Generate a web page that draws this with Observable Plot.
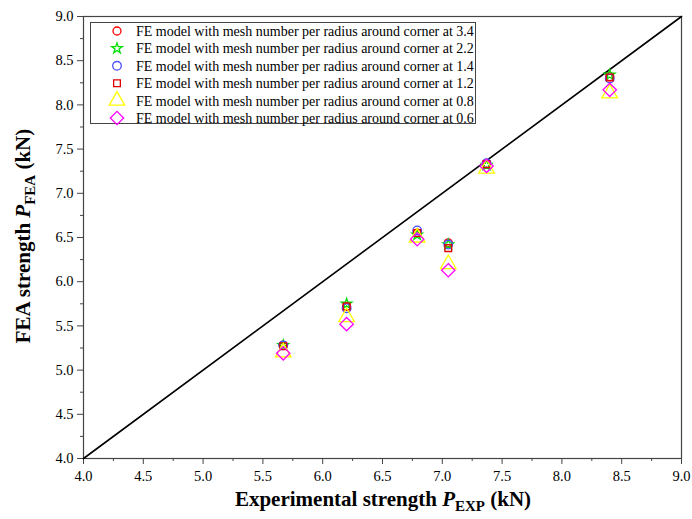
<!DOCTYPE html>
<html>
<head>
<meta charset="utf-8">
<script src="https://cdn.jsdelivr.net/npm/d3@7"></script>
<script src="https://cdn.jsdelivr.net/npm/@observablehq/plot@0.6"></script>
<style>
  body { margin: 0; background: #fff; }
  #chart { width: 692px; height: 519px; }
</style>
</head>
<body>
<div id="chart"></div>
<script>
const xExp = [5.67, 6.2, 6.79, 7.05, 7.37, 8.4];
const seriesLabels = [
  "FE model with mesh number per radius around corner at 3.4",
  "FE model with mesh number per radius around corner at 2.2",
  "FE model with mesh number per radius around corner at 1.4",
  "FE model with mesh number per radius around corner at 1.2",
  "FE model with mesh number per radius around corner at 0.8",
  "FE model with mesh number per radius around corner at 0.6"
];
const mesh34 = [5.28, 5.72, 6.55, 6.44, 7.33, 8.32];
const mesh22 = [5.28, 5.75, 6.53, 6.42, 7.32, 8.34];
const mesh14 = [5.28, 5.70, 6.58, 6.42, 7.34, 8.30];
const mesh12 = [5.27, 5.72, 6.55, 6.38, 7.33, 8.31];
const mesh08 = [5.20, 5.60, 6.50, 6.20, 7.28, 8.13];
const mesh06 = [5.19, 5.52, 6.48, 6.13, 7.31, 8.17];
const xTicks = [4.0, 4.5, 5.0, 5.5, 6.0, 6.5, 7.0, 7.5, 8.0, 8.5, 9.0];
const yTicks = [4.0, 4.5, 5.0, 5.5, 6.0, 6.5, 7.0, 7.5, 8.0, 8.5, 9.0];
const diagonal = [4, 9];

const seriesValues = [mesh34, mesh22, mesh14, mesh12, mesh08, mesh06];
const styles = [
  {symbol: "circle", stroke: "#ff0000", r: 4.0},
  {symbol: "star", stroke: "#00e000", r: 3.3},
  {symbol: "circle", stroke: "#4a4aff", r: 4.3},
  {symbol: "square", stroke: "#e00000", r: 3.8},
  {symbol: "triangle", stroke: "#ffff00", r: 5.8},
  {symbol: "diamond2", stroke: "#ff00ff", r: 6.0}
];
const rows = [];
seriesValues.forEach((vals, s) => vals.forEach((v, i) => rows.push({s, x: xExp[i], y: v})));

const minorX = d3.range(4.25, 9, 0.5);
const minorY = d3.range(4.25, 9, 0.5);
const font = "'Liberation Serif', 'Times New Roman', serif";

const dotMarks = styles.map((st, s) =>
  Plot.dot(rows.filter(d => d.s === s), {
    x: "x", y: "y", symbol: () => st.symbol, r: st.r,
    stroke: st.stroke, fill: "none", strokeWidth: 1.3
  })
);

const plot = Plot.plot({
  width: 692, height: 519,
  marginLeft: 83, marginRight: 11, marginTop: 16, marginBottom: 61,
  style: {fontFamily: font, fontSize: "14px", background: "#fff", color: "#000"},
  x: {domain: [4, 9]},
  y: {domain: [4, 9]},
  symbol: {type: "identity"},
  marks: [
    Plot.frame({stroke: "#444", strokeWidth: 1.2}),
    Plot.axisX({ticks: xTicks, tickFormat: d3.format(".1f"), tickSize: 6, tickPadding: 6, label: null, stroke: "#444", fontSize: 14.5}),
    Plot.axisX({ticks: minorX, tickFormat: null, text: null, tickSize: 3, label: null, stroke: "#444"}),
    Plot.axisY({ticks: yTicks, tickFormat: d3.format(".1f"), tickSize: 6, tickPadding: 4, label: null, stroke: "#444", fontSize: 14.5}),
    Plot.axisY({ticks: minorY, tickFormat: null, text: null, tickSize: 3, label: null, stroke: "#444"}),
    Plot.line(diagonal.map(v => ({x: v, y: v})), {x: "x", y: "y", stroke: "#000", strokeWidth: 1.6}),
    ...dotMarks
  ]
});

const svg = d3.select(plot);
// Axis titles with subscripts
const xt = svg.append("text")
  .attr("x", 383).attr("y", 506)
  .attr("text-anchor", "middle")
  .style("font-family", font).style("font-weight", "bold").style("font-size", "21px");
xt.append("tspan").text("Experimental strength ");
xt.append("tspan").style("font-style", "italic").text("P");
xt.append("tspan").attr("dy", 5).style("font-size", "15px").text("EXP");
xt.append("tspan").attr("dy", -5).text(" (kN)");

const yt = svg.append("text")
  .attr("transform", "translate(30,236) rotate(-90)")
  .attr("text-anchor", "middle")
  .style("font-family", font).style("font-weight", "bold").style("font-size", "21px");
yt.append("tspan").text("FEA strength ");
yt.append("tspan").style("font-style", "italic").text("P");
yt.append("tspan").attr("dy", 5).style("font-size", "15px").text("FEA");
yt.append("tspan").attr("dy", -5).text(" (kN)");

// Legend
const symMap = {circle: d3.symbolCircle, star: d3.symbolStar, square: d3.symbolSquare, triangle: d3.symbolTriangle, diamond2: d3.symbolDiamond2};
const lg = svg.append("g").attr("text-anchor", "start");
lg.append("rect").attr("x", 90.5).attr("y", 22.5).attr("width", 385).attr("height", 101)
  .attr("fill", "#fff").attr("stroke", "#444").attr("stroke-width", 1);
styles.forEach((st, i) => {
  const cy = 31 + i * 17.4;
  lg.append("path")
    .attr("transform", `translate(117,${cy})`)
    .attr("d", d3.symbol(symMap[st.symbol], Math.PI * st.r * st.r)())
    .attr("fill", "none").attr("stroke", st.stroke).attr("stroke-width", 1.3);
  lg.append("text").attr("x", 136).attr("y", cy).attr("dy", "0.35em")
    .attr("text-anchor", "start")
    .style("font-family", font).style("font-size", "14px").text(seriesLabels[i]);
});

document.getElementById("chart").appendChild(plot);
</script>
</body>
</html>
